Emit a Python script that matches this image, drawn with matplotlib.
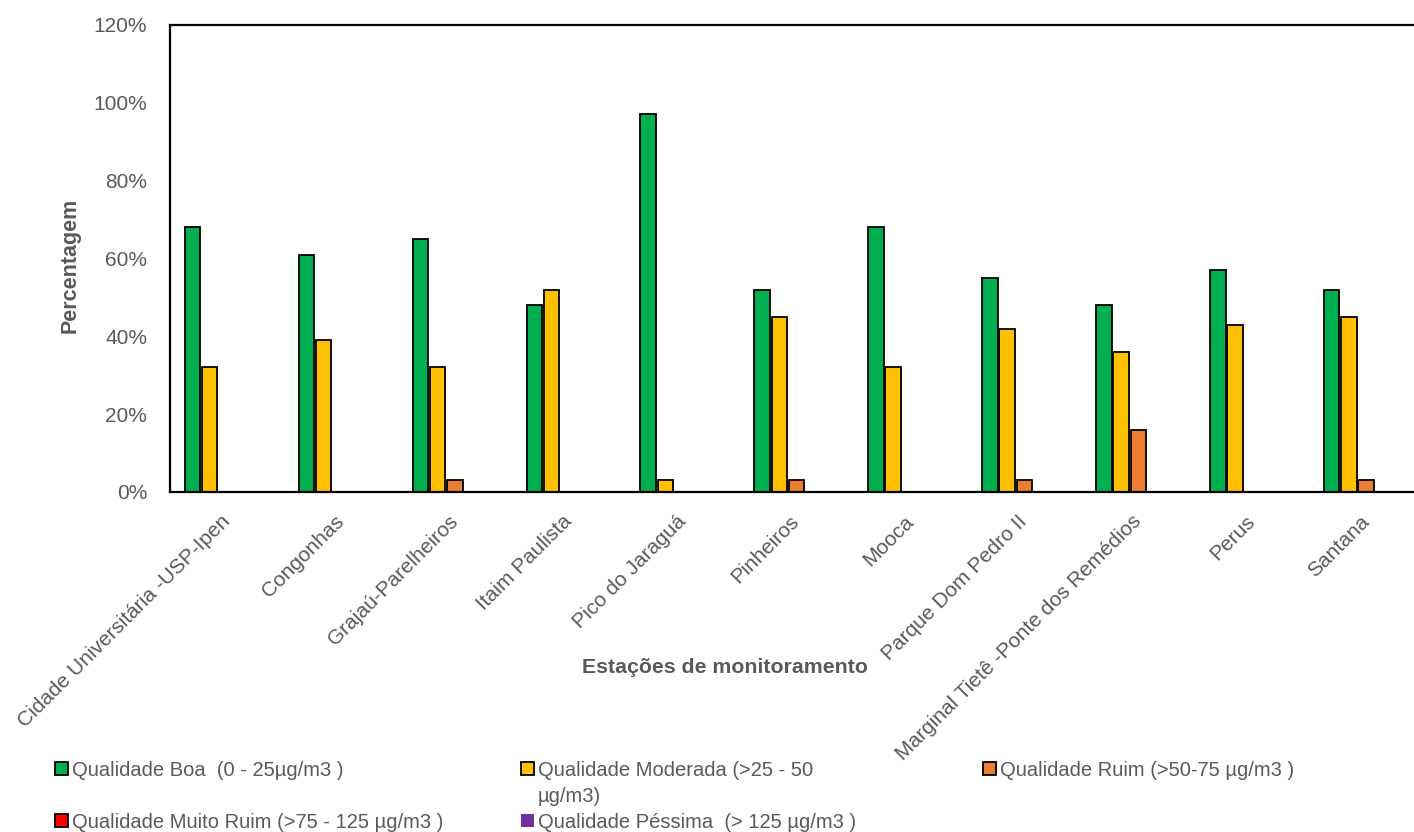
import numpy as np
import matplotlib
matplotlib.use("Agg")
from matplotlib import pyplot as plt
from matplotlib.ticker import PercentFormatter, MultipleLocator

plt.rcParams['font.family'] = ['Liberation Sans', 'DejaVu Sans']

estacoes = ["Cidade Universitária -USP-Ipen", "Congonhas", "Grajaú-Parelheiros",
            "Itaim Paulista", "Pico do Jaraguá", "Pinheiros", "Mooca",
            "Parque Dom Pedro II", "Marginal Tietê -Ponte dos Remédios",
            "Perus", "Santana"]

# percentagem de dias em cada faixa de qualidade do ar
boa = [68, 61, 65, 48, 97, 52, 68, 55, 48, 57, 52]
moderada = [32, 39, 32, 52, 3, 45, 32, 42, 36, 43, 45]
ruim = [0, 0, 3, 0, 0, 3, 0, 3, 16, 0, 3]
muito_ruim = [0, 0, 0, 0, 0, 0, 0, 0, 0, 0, 0]
pessima = [0, 0, 0, 0, 0, 0, 0, 0, 0, 0, 0]

series = [boa, moderada, ruim, muito_ruim, pessima]
rotulos = ["Qualidade Boa  (0 - 25µg/m3 )",
           "Qualidade Moderada (>25 - 50",
           "Qualidade Ruim (>50-75 µg/m3 )",
           "Qualidade Muito Ruim (>75 - 125 µg/m3 )",
           "Qualidade Péssima  (> 125 µg/m3 )"]
cores = ["#00B050", "#FFC000", "#ED7D31", "#FF0000", "#7030A0"]
bordas = ["black", "black", "black", "black", "none"]

cinza = "#595959"
W, H = 1414, 832

fig = plt.figure(figsize=(W / 100, H / 100), dpi=100)
ax = fig.add_axes([0.1202, 0.4087, 0.8862, 0.5613])

x = np.arange(len(estacoes))
passo = 0.151
larg = 0.136
barras = []
for i, (vals, cor, borda) in enumerate(zip(series, cores, bordas)):
    b = ax.bar(x + (i - 2) * passo, vals, width=larg, color=cor,
               edgecolor=borda, linewidth=1.3, label=rotulos[i])
    barras.append(b)

ax.set_xlim(-0.5, len(estacoes) - 0.5)
ax.set_ylim(0, 120)
ax.yaxis.set_major_locator(MultipleLocator(20))
ax.yaxis.set_major_formatter(PercentFormatter(xmax=100, decimals=0))

for s in ax.spines.values():
    s.set_color("black")
    s.set_linewidth(1.6)

ax.tick_params(axis="both", length=0, labelsize=15, labelcolor=cinza)
ax.tick_params(axis="y", pad=16.5)
ax.set_xticks(x)
ax.set_xticklabels(estacoes, rotation=45, ha="right", va="center",
                   rotation_mode="anchor")
ax.tick_params(axis="x", pad=19)

ax.set_ylabel("Percentagem", fontsize=15.5, fontweight="bold", color=cinza)
ax.yaxis.set_label_coords(-0.071, 0.486)
ax.set_xlabel("Estações de monitoramento", fontsize=15.3, fontweight="bold", color=cinza)
ax.xaxis.set_label_coords(0.443, -0.355)

# legenda: uma coluna por grupo, cada uma com a sua posição
colunas = [[0, 3], [1, 4], [2]]
x_col = [55, 521, 983]
for idx, xc in zip(colunas, x_col):
    leg = fig.legend([barras[i] for i in idx], [rotulos[i] for i in idx],
                     loc="upper left", bbox_to_anchor=(xc / W, 0.0858),
                     frameon=False, fontsize=14.5, handlelength=0.65,
                     handleheight=0.65, handletextpad=0.2, labelspacing=1.65,
                     borderpad=0, borderaxespad=0)
    for t in leg.get_texts():
        t.set_color(cinza)
fig.text(538 / W, 1 - 797 / H, "µg/m3)", fontsize=14.5, color=cinza, va="center")

fig.savefig("out.png", dpi=100)
